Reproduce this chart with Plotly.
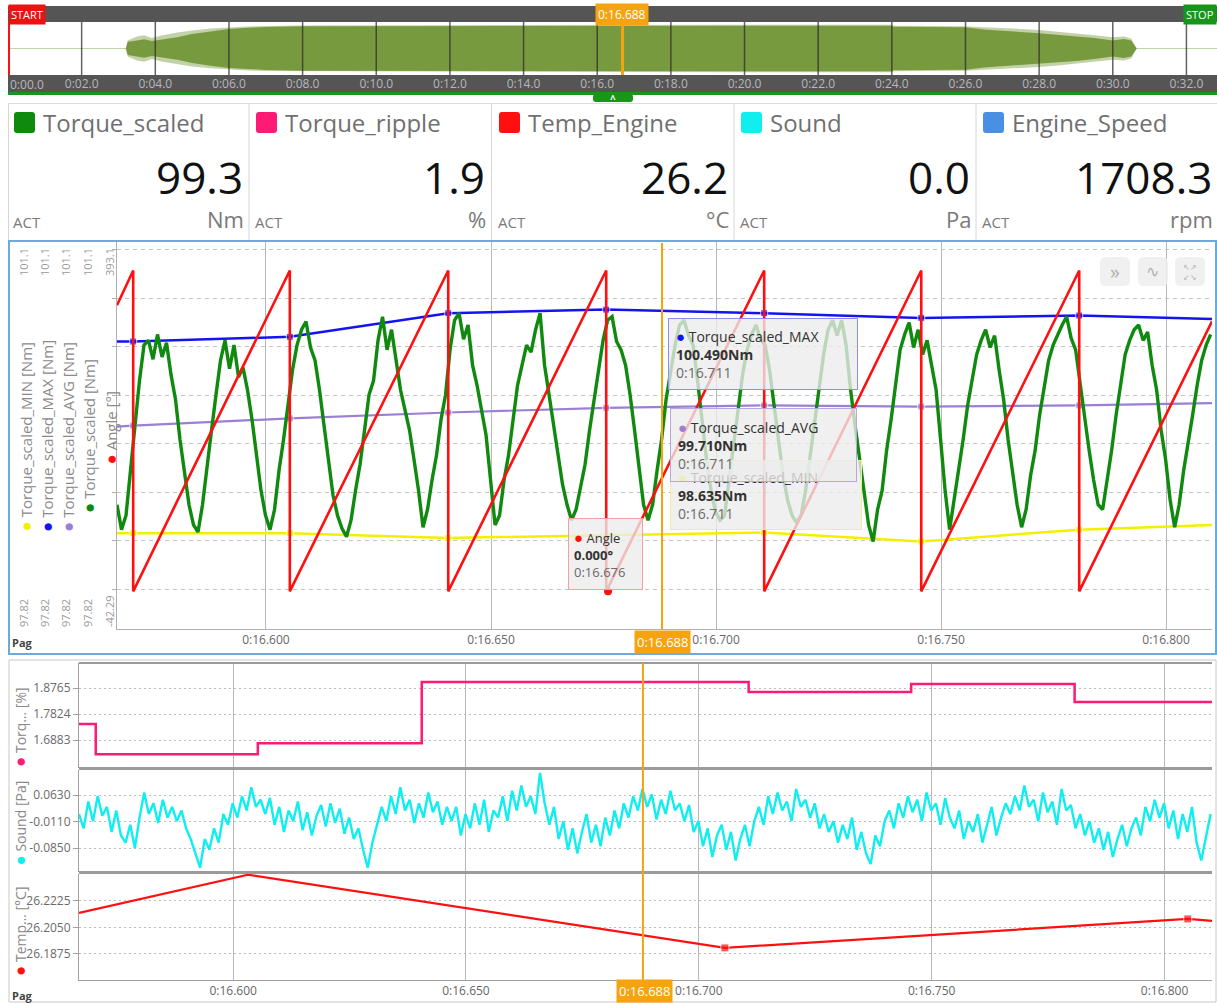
import plotly.graph_objects as go

W, H = 1217, 1003
OFF = 0  # body margin removed in the page (see write_html post_script)


def px(x):
    return (x - OFF) / W


def py(y):
    return 1 - (y - OFF) / H


# ---------------- data ----------------
ov_tick_vals = [0, 2, 4, 6, 8, 10, 12, 14, 16, 18, 20, 22, 24, 26, 28, 30, 32]
ov_tick_text = ["0:00.0", "0:02.0", "0:04.0", "0:06.0", "0:08.0", "0:10.0", "0:12.0", "0:14.0",
                "0:16.0", "0:18.0", "0:20.0", "0:22.0", "0:24.0", "0:26.0", "0:28.0", "0:30.0", "0:32.0"]
ov_range = [0.0, 32.83]
env_t = [3.2, 3.25, 3.5, 3.7, 3.9, 4.2, 4.6, 5.0, 5.5, 6.0, 6.5, 7.0, 8.0, 12.0, 16.0, 20.0, 24.0,
         24.05, 26.0, 26.5, 27.0, 27.5, 28.0, 28.5, 29.0, 29.5, 30.0, 30.3, 30.5, 30.65]
env_inner = [0.0, 0.25, 0.3, 0.35, 0.28, 0.33, 0.42, 0.55, 0.65, 0.74, 0.78, 0.81, 0.84, 0.85, 0.86,
             0.86, 0.86, 0.82, 0.80, 0.72, 0.66, 0.62, 0.58, 0.52, 0.47, 0.40, 0.30, 0.36, 0.30, 0.0]
env_outer = [0.0, 0.3, 0.45, 0.5, 0.4, 0.5, 0.6, 0.68, 0.75, 0.8, 0.83, 0.85, 0.87, 0.88, 0.89,
             0.9, 0.9, 0.86, 0.84, 0.8, 0.78, 0.74, 0.7, 0.64, 0.58, 0.5, 0.42, 0.45, 0.38, 0.0]
cursor_t = 16.688
cursor_text = "0:16.688"

panel_names = ["Torque_scaled", "Torque_ripple", "Temp_Engine", "Sound", "Engine_Speed"]
panel_values = ["99.3", "1.9", "26.2", "0.0", "1708.3"]
panel_units = ["Nm", "%", "°C", "Pa", "rpm"]
panel_colors = ["#0f8a0f", "#ff1a75", "#ff1010", "#10eef0", "#4a90e2"]

t_range = [16.5669, 16.8102]
main_tick_vals = [16.60, 16.65, 16.70, 16.75, 16.80]
main_tick_text = ["0:16.600", "0:16.650", "0:16.700", "0:16.750", "0:16.800"]
torque_range = [97.82, 101.1]
angle_range = [-42.29, 393.1]
main_grid = [2.6, 57.0, 111.3, 165.7, 220.1, 274.4, 328.8, 383.1]

torque_t0 = 16.5669
torque_dt = 0.001
torque = [
    98.87, 98.66, 98.78, 99.16, 99.59, 99.92, 100.22, 100.26, 100.10, 100.31, 100.12, 100.24, 99.97, 99.76, 99.42, 99.12, 98.87, 98.70, 98.64, 98.87,
    99.16, 99.50, 99.80, 100.09, 100.26, 100.02, 100.22, 99.95, 100.03, 99.84, 99.59, 99.29, 98.99, 98.78, 98.66, 98.83, 99.16, 99.42, 99.71, 100.01,
    100.22, 100.35, 100.42, 100.20, 100.09, 99.84, 99.54, 99.25, 98.95, 98.78, 98.67, 98.60, 98.74, 98.99, 99.21, 99.50, 99.80, 99.92, 100.26, 100.46,
    100.18, 100.35, 100.09, 99.84, 99.67, 99.50, 99.25, 98.99, 98.68, 98.83, 99.08, 99.29, 99.59, 99.80, 100.18, 100.43, 100.49, 100.27, 100.39, 100.05,
    99.88, 99.67, 99.46, 99.08, 98.70, 98.78, 99.08, 99.29, 99.59, 99.88, 100.05, 100.22, 100.16, 100.35, 100.49, 100.05, 99.80, 99.54, 99.29, 99.04,
    98.87, 98.74, 98.83, 99.04, 99.21, 99.50, 99.76, 100.01, 100.26, 100.43, 100.46, 100.25, 100.18, 100.05, 99.80, 99.50, 99.16, 98.87, 98.74, 98.87,
    99.16, 99.42, 99.76, 100.01, 100.22, 100.39, 100.43, 100.30, 100.22, 99.92, 99.59, 99.25, 98.99, 98.81, 98.74, 98.78, 99.08, 99.38, 99.67, 99.97,
    100.18, 100.31, 100.39, 100.27, 100.22, 100.01, 99.71, 99.42, 99.12, 98.91, 98.78, 98.72, 98.78, 98.99, 99.29, 99.59, 99.88, 100.14, 100.35, 100.43,
    100.30, 100.43, 100.22, 99.84, 99.54, 99.25, 98.95, 98.70, 98.56, 98.83, 98.99, 99.33, 99.59, 99.88, 100.18, 100.31, 100.41, 100.20, 100.35, 100.14,
    100.26, 100.05, 99.84, 99.42, 98.99, 98.66, 98.91, 99.16, 99.42, 99.71, 99.92, 100.14, 100.26, 100.35, 100.20, 100.30, 100.01, 99.76, 99.42, 99.12,
    98.87, 98.68, 98.83, 99.12, 99.33, 99.63, 99.88, 100.09, 100.22, 100.31, 100.39, 100.46, 100.28, 100.18, 99.88, 99.59, 99.33, 99.08, 98.87, 98.83,
    99.08, 99.33, 99.63, 99.88, 100.14, 100.26, 100.35, 100.39, 100.26, 100.33, 100.05, 99.84, 99.50, 99.25, 98.91, 98.68, 98.87, 99.16, 99.38, 99.63,
    99.88, 100.09, 100.22, 100.31,
]

rev_t = [16.5705, 16.6053, 16.6405, 16.6756, 16.7107, 16.7456, 16.7807]
angle_start = 321.0
angle_end = 303.0
angle_full = 360.0
angle_hover_t = 16.676
angle_hover_v = 0.0

stat_t = [16.5669, 16.5705, 16.6053, 16.6405, 16.6756, 16.7107, 16.7456, 16.7807, 16.8102]
max_v = [100.25, 100.25, 100.29, 100.49, 100.52, 100.49, 100.45, 100.47, 100.44]
avg_v = [99.53, 99.54, 99.60, 99.65, 99.69, 99.71, 99.70, 99.71, 99.73]
min_v = [98.63, 98.63, 98.63, 98.59, 98.61, 98.635, 98.56, 98.66, 98.70]

ripple_t = [16.5669, 16.5705, 16.6053, 16.6405, 16.7107, 16.7456, 16.7807, 16.8102]
ripple_v = [1.746, 1.637, 1.677, 1.898, 1.862, 1.891, 1.826, 1.826]
ripple_ticks = [1.6883, 1.7824, 1.8765]
ripple_tick_text = ["1.6883", "1.7824", "1.8765"]

sound_t0 = 16.5669
sound_dt = 0.001
sound = [
    0.010, -0.030, 0.045, -0.010, 0.060, 0.005, 0.030, -0.040, 0.020, -0.050, -0.070, -0.020, -0.085, 0.000, 0.070, 0.010, 0.040, -0.015, 0.050, 0.000,
    0.030, -0.010, 0.020, -0.030, -0.060, -0.100, -0.140, -0.060, -0.090, -0.030, -0.070, 0.010, -0.020, 0.040, 0.000, 0.060, 0.020, 0.085, 0.030, 0.050,
    0.010, 0.055, -0.020, 0.030, -0.040, 0.020, -0.010, 0.045, -0.035, 0.015, -0.050, 0.005, 0.035, -0.025, 0.040, -0.015, 0.025, -0.045, 0.000, -0.060,
    -0.030, -0.090, -0.140, -0.070, -0.020, 0.030, -0.010, 0.060, 0.010, 0.085, 0.020, 0.050, -0.015, 0.040, 0.000, 0.070, 0.015, 0.045, -0.020, 0.030,
    -0.010, 0.030, -0.050, 0.010, -0.030, 0.040, -0.020, 0.050, -0.040, 0.020, 0.000, 0.060, -0.010, 0.075, 0.020, 0.090, 0.030, 0.060, 0.010, 0.125,
    0.040, -0.020, 0.030, -0.060, -0.010, -0.090, -0.030, -0.100, -0.040, 0.010, -0.070, -0.020, -0.080, 0.000, -0.050, 0.020, -0.030, 0.040, 0.000, 0.060,
    0.020, 0.080, 0.030, 0.065, -0.005, 0.050, 0.010, 0.075, 0.020, 0.040, -0.010, 0.035, -0.040, -0.010, -0.080, -0.030, -0.110, -0.050, -0.020, -0.090,
    -0.040, -0.120, -0.060, -0.020, -0.080, -0.010, 0.030, -0.020, 0.060, 0.010, 0.070, 0.020, 0.045, -0.010, 0.080, 0.030, 0.050, 0.000, 0.040, -0.030,
    0.010, -0.040, -0.010, -0.070, -0.020, -0.060, 0.000, -0.090, -0.040, -0.100, -0.130, -0.050, -0.080, -0.010, 0.020, -0.030, 0.040, 0.000, 0.060, 0.015,
    0.050, -0.010, 0.070, 0.020, 0.040, -0.020, 0.055, 0.000, -0.030, 0.020, -0.060, -0.010, -0.040, 0.010, -0.070, -0.020, 0.030, -0.050, 0.000, 0.040,
    0.010, 0.060, 0.020, 0.090, 0.030, 0.050, -0.010, 0.070, 0.015, 0.045, -0.020, 0.080, 0.020, 0.035, -0.030, 0.010, -0.050, -0.010, -0.070, -0.030,
    -0.090, -0.040, -0.110, -0.060, -0.020, -0.080, -0.030, 0.000, -0.050, 0.030, -0.010, 0.050, 0.000, 0.040, -0.030, 0.020, -0.060, 0.010, -0.040, 0.030,
    -0.070, -0.120, -0.050, 0.010,
]
sound_ticks = [-0.085, -0.011, 0.063]
sound_tick_text = ["-0.0850", "-0.0110", "0.0630"]

temp_t = [16.5669, 16.6032, 16.7056, 16.8050, 16.8102]
temp_v = [26.2146, 26.2398, 26.1915, 26.2106, 26.2093]
temp_ticks = [26.1875, 26.2050, 26.2225]
temp_tick_text = ["26.1875", "26.2050", "26.2225"]

tip_angle = ["Angle", "0.000°", "0:16.676"]
tip_max = ["Torque_scaled_MAX", "100.490Nm", "0:16.711"]
tip_avg = ["Torque_scaled_AVG", "99.710Nm", "0:16.711"]
tip_min = ["Torque_scaled_MIN", "98.635Nm", "0:16.711"]

# ---------------- colours ----------------
C_GREEN = "#0f8a0f"
C_BLUE = "#1414f0"
C_PURPLE = "#9b7fd4"
C_YELLOW = "#f2f000"
C_RED = "#ff1010"
C_PINK = "#ff1a75"
C_CYAN = "#10eef0"
C_ORANGE = "#f5a30f"
FONT = "Open Sans, Noto Sans, sans-serif"

fig = go.Figure()

# ---------------- overview ----------------
fig.add_trace(go.Scatter(
    x=env_t + env_t[::-1], y=env_outer + [-v for v in env_outer[::-1]],
    fill="toself", fillcolor="rgba(122,154,62,0.45)", line=dict(width=0),
    mode="lines", xaxis="x", yaxis="y"))
fig.add_trace(go.Scatter(
    x=env_t + env_t[::-1], y=env_inner + [-v for v in env_inner[::-1]],
    fill="toself", fillcolor="#789a3e", line=dict(width=0),
    mode="lines", xaxis="x", yaxis="y"))

# ---------------- main chart ----------------
torque_t = [torque_t0 + i * torque_dt for i in range(len(torque))]
mk = [0] + [7] * (len(stat_t) - 2) + [0]
fig.add_trace(go.Scatter(x=stat_t, y=min_v, mode="lines+markers", line=dict(color=C_YELLOW, width=2.5),
                         marker=dict(symbol="square", size=mk, color=C_YELLOW), xaxis="x2", yaxis="y2"))
fig.add_trace(go.Scatter(x=stat_t, y=avg_v, mode="lines+markers", line=dict(color=C_PURPLE, width=2.2),
                         marker=dict(symbol="square", size=mk, color=C_PURPLE), xaxis="x2", yaxis="y2"))
fig.add_trace(go.Scatter(x=stat_t, y=max_v, mode="lines+markers", line=dict(color=C_BLUE, width=2.5),
                         marker=dict(symbol="square", size=mk, color=C_BLUE), xaxis="x2", yaxis="y2"))
fig.add_trace(go.Scatter(x=torque_t, y=torque, mode="lines", line=dict(color=C_GREEN, width=3.4),
                         xaxis="x2", yaxis="y2"))

ax = [t_range[0]]
ay = [angle_start]
for t in rev_t:
    ax += [t, t]
    ay += [angle_full, 0.0]
ax.append(t_range[1])
ay.append(angle_end)
fig.add_trace(go.Scatter(x=ax, y=ay, mode="lines", line=dict(color=C_RED, width=2.6),
                         xaxis="x2", yaxis="y3"))
fig.add_trace(go.Scatter(x=[angle_hover_t], y=[angle_hover_v], mode="markers",
                         marker=dict(color=C_RED, size=8), xaxis="x2", yaxis="y3"))

# ---------------- bottom charts ----------------
fig.add_trace(go.Scatter(x=ripple_t, y=ripple_v, mode="lines", line=dict(color=C_PINK, width=2.5, shape="hv"),
                         xaxis="x3", yaxis="y4"))
sound_t = [sound_t0 + i * sound_dt for i in range(len(sound))]
fig.add_trace(go.Scatter(x=sound_t, y=sound, mode="lines", line=dict(color=C_CYAN, width=2.4),
                         xaxis="x3", yaxis="y5"))
fig.add_trace(go.Scatter(x=temp_t, y=temp_v, mode="lines+markers", line=dict(color=C_RED, width=2.2),
                         marker=dict(symbol="square", size=[0, 0, 8, 8, 0], color=C_RED),
                         xaxis="x3", yaxis="y6"))

# ---------------- shapes ----------------
shapes = []


def rect(x0, y0, x1, y1, fill=None, line=None, lw=0, layer="above"):
    shapes.append(dict(type="rect", xref="paper", yref="paper", x0=px(x0), x1=px(x1), y0=py(y1), y1=py(y0),
                       fillcolor=fill or "rgba(0,0,0,0)", line=dict(color=line or "rgba(0,0,0,0)", width=lw),
                       layer=layer))


def hline(x0, x1, y, color, w, dash="solid", layer="above"):
    shapes.append(dict(type="line", xref="paper", yref="paper", x0=px(x0), x1=px(x1), y0=py(y), y1=py(y),
                       line=dict(color=color, width=w, dash=dash), layer=layer))


def vline(x, y0, y1, color, w, layer="above"):
    shapes.append(dict(type="line", xref="paper", yref="paper", x0=px(x), x1=px(x), y0=py(y0), y1=py(y1),
                       line=dict(color=color, width=w), layer=layer))


def rrect(x0, y0, x1, y1, r, fill, line=None, lw=0):
    pts = (f"M {px(x0 + r)},{py(y0)} L {px(x1 - r)},{py(y0)} Q {px(x1)},{py(y0)} {px(x1)},{py(y0 + r)} "
           f"L {px(x1)},{py(y1 - r)} Q {px(x1)},{py(y1)} {px(x1 - r)},{py(y1)} "
           f"L {px(x0 + r)},{py(y1)} Q {px(x0)},{py(y1)} {px(x0)},{py(y1 - r)} "
           f"L {px(x0)},{py(y0 + r)} Q {px(x0)},{py(y0)} {px(x0 + r)},{py(y0)} Z")
    shapes.append(dict(type="path", xref="paper", yref="paper", path=pts, fillcolor=fill,
                       line=dict(color=line or "rgba(0,0,0,0)", width=lw), layer="above"))


# overview frame
rect(8, 6, 1217, 22, fill="#555555", layer="below")
rect(8, 75, 1217, 92, fill="#555555", layer="below")
rect(8, 92, 1217, 95, fill="#1a941a", layer="below")
for t in ov_tick_vals[1:]:
    shapes.append(dict(type="line", xref="x", yref="paper", x0=t, x1=t, y0=py(75), y1=py(22),
                       line=dict(color="rgba(45,45,45,0.75)", width=1.5), layer="above"))
vline(9, 22, 75, "#ff1010", 2)
shapes.append(dict(type="line", xref="x", yref="paper", x0=cursor_t, x1=cursor_t, y0=py(75), y1=py(22),
                   line=dict(color=C_ORANGE, width=3), layer="above"))
rrect(593, 94, 633, 102, 3, "#1a941a")

# value panels
hline(8, 1217, 103.5, "#dcdcdc", 1)
for x in [8.5, 249, 491.5, 734, 976]:
    vline(x, 103, 240, "#d6d6d6", 1)
panel_x0 = [8, 250, 493, 735, 977]
for i, x0 in enumerate(panel_x0):
    rrect(x0 + 6, 112, x0 + 27, 133, 3, panel_colors[i])

# main panel
rect(9, 241, 1216, 654, line="#6fa8dc", lw=2)
shapes.append(dict(type="line", xref="x2", yref="paper", x0=cursor_t, x1=cursor_t, y0=py(629), y1=py(243),
                   line=dict(color=C_ORANGE, width=2), layer="above"))
for bx in [1100, 1138, 1175]:
    rrect(bx, 257, bx + 30, 286, 6, "rgba(238,238,238,0.9)")

# bottom panel
rect(9, 660, 1216, 1002, line="#c8c8c8", lw=1)
hline(79, 1212, 663, "#9a9a9a", 2)
hline(79, 1212, 768.5, "#9a9a9a", 3)
hline(79, 1212, 872.5, "#9a9a9a", 3)
shapes.append(dict(type="line", xref="x3", yref="paper", x0=cursor_t, x1=cursor_t, y0=py(980), y1=py(663),
                   line=dict(color=C_ORANGE, width=2), layer="above"))

# ---------------- annotations ----------------
ann = []


def text(x, y, s, size=12, color="#555", xa="left", ya="middle", angle=0, bold=False, bg=None, pad=0, fam=FONT):
    if bold:
        s = f"<b>{s}</b>"
    d = dict(xref="paper", yref="paper", x=px(x), y=py(y), text=s, showarrow=False, xanchor=xa, yanchor=ya,
             font=dict(size=size, color=color, family=fam), textangle=angle, borderpad=pad)
    if bg:
        d["bgcolor"] = bg
    ann.append(d)


# overview labels
text(8, 14.5, "START", 11, "white", bg="#ee1111", pad=2)
text(1217, 14.5, "STOP", 11, "white", xa="right", bg="#17951a", pad=2)
text(622, 14.5, cursor_text, 12, "white", xa="center", bg=C_ORANGE, pad=2)
text(9, 84, ov_tick_text[0], 12, "#b8b8b8")
text(613, 98.5, "^", 10, "white", xa="center", bold=True)

# value panels
for i, x0 in enumerate(panel_x0):
    text(x0 + 34, 123, panel_names[i], 24, "#707070")
    text(x0 + 236, 177, panel_values[i], 44, "#111111", xa="right")
    text(x0 + 4, 222, "ACT", 15, "#7a7a7a")
    text(x0 + 237, 219, panel_units[i], 22, "#7a7a7a", xa="right")

# main chart left labels
dot = "<span style='color:{c};font-size:17px'>●</span> "
left_labels = [
    (25, 533, C_YELLOW, "Torque_scaled_MIN [Nm]"),
    (46, 533, C_BLUE, "Torque_scaled_MAX [Nm]"),
    (67, 533, C_PURPLE, "Torque_scaled_AVG [Nm]"),
    (88, 514, C_GREEN, "Torque_scaled [Nm]"),
    (110, 465, C_RED, "Angle [°]"),
]
for x, yb, c, s in left_labels:
    text(x, yb, dot.format(c=c) + s, 15, "#8a8a8a", xa="center", ya="bottom", angle=-90)
for x in [23, 44, 65, 87]:
    text(x, 247, f"{torque_range[1]}", 11, "#9a9a9a", xa="center", ya="top", angle=-90)
    text(x, 628, f"{torque_range[0]}", 11, "#9a9a9a", xa="center", ya="bottom", angle=-90)
text(109, 247, f"{angle_range[1]}", 11, "#9a9a9a", xa="center", ya="top", angle=-90)
text(109, 628, f"{angle_range[0]}", 11, "#9a9a9a", xa="center", ya="bottom", angle=-90)
text(11, 642, "Pag", 11, "#444", bold=True)
text(662, 642, cursor_text, 13, "white", xa="center", bg=C_ORANGE, pad=2)

# icons
text(1115, 271, "»", 20, "#b0b0b0", xa="center")
text(1152, 271, "∿", 16, "#b0b0b0", xa="center")
text(1190, 271, "↖↗<br>↙↘", 8, "#b0b0b0", xa="center")


# tooltips
def tip(x0, y0, w, h, lines, c, border, fs=14, pad=7):
    s = (f"<span style='color:{c};font-size:15px'>●</span> {lines[0]}<br><b>{lines[1]}</b><br>"
         f"<span style='color:#6a6a6a'>{lines[2]}</span>")
    ann.append(dict(xref="paper", yref="paper", x=px(x0), y=py(y0), xanchor="left", yanchor="top", text=s,
                    showarrow=False, align="left", valign="middle", bgcolor="rgba(236,236,236,0.78)",
                    bordercolor=border, borderwidth=1, borderpad=pad, width=w - 2 * pad - 2,
                    height=h - 2 * pad - 2, font=dict(size=fs, color="#333", family=FONT)))


tip(670, 460, 192, 70, tip_min, C_YELLOW, "#f0ee90")
tip(670, 408, 187, 74, tip_avg, C_PURPLE, "#b8a6e0")
tip(668, 318, 190, 72, tip_max, C_BLUE, "#8c8cf5")
tip(568, 518, 75, 72, tip_angle, C_RED, "#f2a0a0", fs=13, pad=5)

# bottom chart labels
text(19, 768, dot.format(c=C_PINK) + "Torq… [%]", 14, "#8a8a8a", xa="center", ya="bottom", angle=-90)
text(19, 867, dot.format(c=C_CYAN) + "Sound [Pa]", 14, "#8a8a8a", xa="center", ya="bottom", angle=-90)
text(19, 977, dot.format(c=C_RED) + "Temp… [°C]", 14, "#8a8a8a", xa="center", ya="bottom", angle=-90)
text(11, 995, "Pag", 11, "#444", bold=True)
text(644, 991, cursor_text, 13, "white", xa="center", bg=C_ORANGE, pad=2)

# ---------------- layout ----------------
bottom_y = dict(anchor="x3", showgrid=True, gridcolor="#bdbdbd", griddash="2px,3px", zeroline=False,
                showline=True, linecolor="#a0a0a0", ticks="outside", ticklen=5, tickcolor="#a0a0a0",
                tickfont=dict(size=12, color="#6a6a6a"), fixedrange=True)

fig.update_layout(
    width=W, height=H, margin=dict(l=0, r=0, t=0, b=0, pad=0),
    paper_bgcolor="white", plot_bgcolor="white", showlegend=False, hovermode=False,
    font=dict(family=FONT, size=12, color="#555"),
    xaxis=dict(domain=[px(8), px(1217)], range=ov_range, anchor="y", tickvals=ov_tick_vals[1:],
               ticktext=ov_tick_text[1:], showgrid=False, zeroline=False, ticks="", showline=False,
               tickfont=dict(size=12, color="#b8b8b8")),
    yaxis=dict(domain=[py(75), py(22)], range=[-1, 1], anchor="x", showticklabels=False, showgrid=False,
               zeroline=True, zerolinecolor="#c2d3a8", zerolinewidth=1.5, ticks=""),
    xaxis2=dict(domain=[px(117), px(1212)], range=t_range, anchor="y2", tickvals=main_tick_vals,
                ticktext=main_tick_text, showgrid=True, gridcolor="#b8b8b8", gridwidth=1, zeroline=False,
                showline=True, linecolor="#b0b0b0", ticks="", tickfont=dict(size=12, color="#666")),
    yaxis2=dict(domain=[py(629), py(241)], range=torque_range, anchor="x2", showticklabels=False,
                showgrid=False, zeroline=False, ticks=""),
    yaxis3=dict(overlaying="y2", anchor="x2", side="left", range=angle_range, tickvals=main_grid,
                showticklabels=False, showgrid=True, gridcolor="#c4c4c4", griddash="4px,4px", zeroline=False,
                showline=True, linecolor="#b0b0b0", ticks="outside", ticklen=4, tickcolor="#b0b0b0"),
    xaxis3=dict(domain=[px(79), px(1212)], range=t_range, anchor="y6", tickvals=main_tick_vals,
                ticktext=main_tick_text, showgrid=True, gridcolor="#b8b8b8", gridwidth=1, zeroline=False,
                showline=True, linecolor="#a0a0a0", ticks="", tickfont=dict(size=12, color="#666")),
    yaxis4=dict(domain=[py(768), py(663)], range=[1.587, 1.967], tickvals=ripple_ticks,
                ticktext=ripple_tick_text, **bottom_y),
    yaxis5=dict(domain=[py(872), py(770)], range=[-0.152, 0.133], tickvals=sound_ticks,
                ticktext=sound_tick_text, **bottom_y),
    yaxis6=dict(domain=[py(980), py(874)], range=[26.1703, 26.2403], tickvals=temp_ticks,
                ticktext=temp_tick_text, **bottom_y),
    shapes=shapes, annotations=ann,
)

fig.write_html("out.html", config={"displayModeBar": False, "staticPlot": True},
               post_script="document.body.style.margin='0px';document.body.style.overflow='hidden';")
